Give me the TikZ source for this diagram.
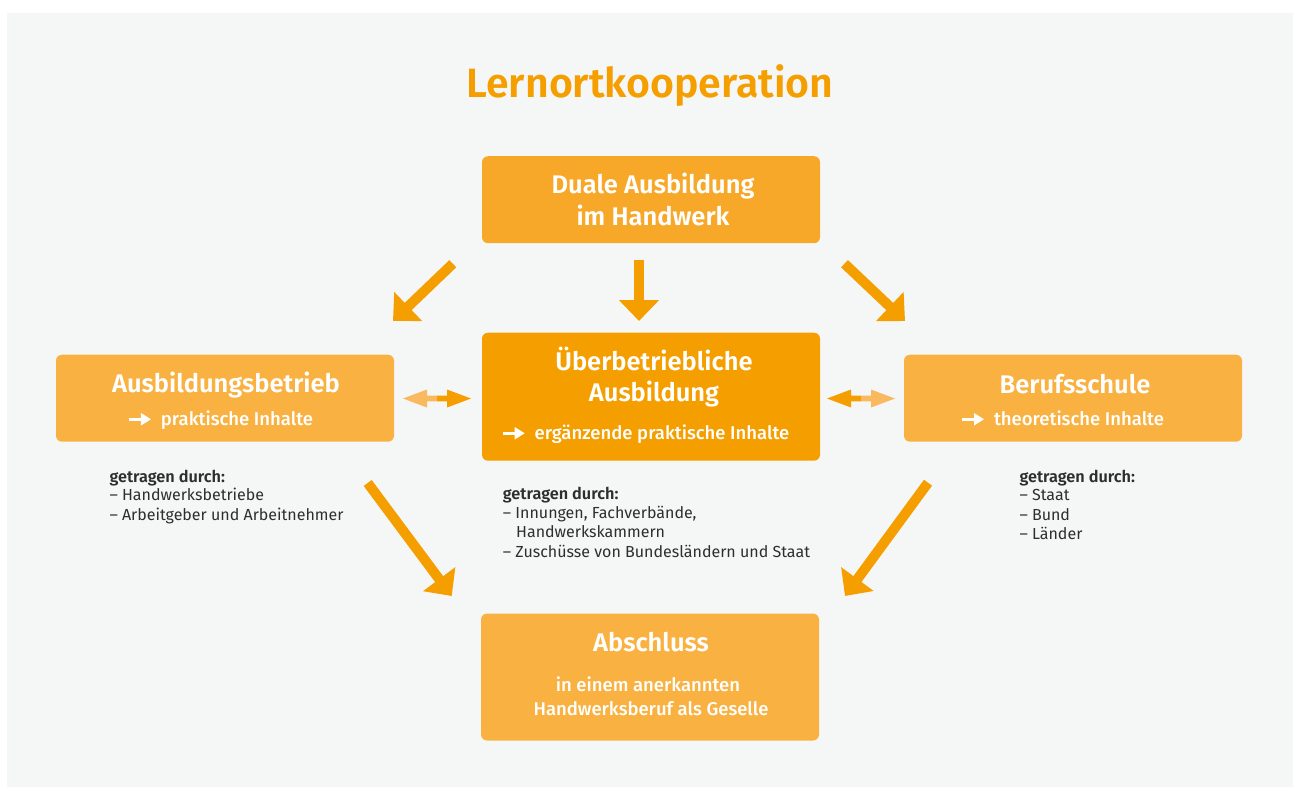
\documentclass[tikz,border=0pt]{standalone}
\usepackage{fontspec}
\IfFontExistsTF{Fira Sans SemiBold}{\setmainfont{Fira Sans}[BoldFont={Fira Sans SemiBold}]}{\setmainfont{Fira Sans}}
\IfFontExistsTF{Fira Sans Medium}{\newfontfamily\medfont{Fira Sans Medium}}{\newfontfamily\medfont{Fira Sans}}
\usetikzlibrary{arrows.meta}
\definecolor{bgc}{HTML}{F5F7F7}
\definecolor{cDark}{HTML}{F59E00}
\definecolor{cDual}{HTML}{F8A828}
\definecolor{cSide}{HTML}{F9B242}
\definecolor{cLight}{HTML}{F9B95F}
\definecolor{cText}{HTML}{2E2E2E}
\newcommand\warr{\tikz[baseline=0pt,x=1pt,y=1pt]{\fill[white] (0,4) rectangle (13,7.5);\fill[white] (12,-0.5) -- (22,5.75) -- (12,12) -- cycle;}\hspace{10pt}}
\begin{document}
\begin{tikzpicture}[x=1pt,y=-1pt,
  box/.style={rounded corners=6pt, minimum width=338pt, inner sep=0pt, draw=none},
  btitle/.style={text=white, font=\fontsize{25.5}{30}\selectfont\bfseries, anchor=base, inner sep=0pt},
  bsub/.style={text=white, font=\fontsize{18.5}{22}\selectfont\medfont, anchor=base, inner sep=0pt},
  gtext/.style={text=cText, font=\fontsize{16}{19.5}\selectfont, anchor=base west, inner sep=0pt},
  gbold/.style={gtext, font=\fontsize{16.3}{19.5}\selectfont\bfseries},
  bigarrow/.style={draw=cDark, line width=10pt, -{Triangle[length=21pt,width=39pt]}}
]
\useasboundingbox (0,0) rectangle (1293,787);
\fill[bgc] (7,13) rectangle (1293,787);

% title
\node[text=cDark, font=\fontsize{41}{48}\selectfont\bfseries, anchor=base, inner sep=0pt] (title) at (650,97) {Lernortkooperation};

% boxes
\node[box, fill=cDual, minimum height=87pt] (duale) at (651,199.7) {};
\node[box, fill=cDark, minimum height=128pt] (ueber) at (651,396.7) {};
\node[box, fill=cSide, minimum height=87pt] (betrieb) at (225,398.2) {};
\node[box, fill=cSide, minimum height=87pt] (schule) at (1073,398.2) {};
\node[box, fill=cSide, minimum height=127pt] (abschluss) at (650,677) {};

% box texts
\node[btitle] (d1) at (653,193) {Duale Ausbildung};
\node[btitle] (d2) at (653,225) {im Handwerk};
\node[btitle] (u1) at (654,370) {Überbetriebliche};
\node[btitle] (u2) at (654,401.7) {Ausbildung};
\node[bsub] (u3) at (646,439) {\warr ergänzende praktische Inhalte};
\node[btitle] (b1) at (226,392.7) {Ausbildungsbetrieb};
\node[bsub] (b2) at (221,425) {\warr praktische Inhalte};
\node[btitle] (s1) at (1075,393.3) {Berufsschule};
\node[bsub] (s2) at (1063,425) {\warr theoretische Inhalte};
\node[btitle] (a1) at (651,651.7) {Abschluss};
\node[bsub] (a2) at (648,691.7) {in einem anerkannten};
\node[bsub] (a3) at (651,715) {Handwerksberuf als Geselle};

% gray texts
\node[gbold] (l0) at (109.3,482.7) {getragen durch:};
\node[gtext] (l1) at (109.3,500.7) {– Handwerksbetriebe};
\node[gtext] (l2) at (109.3,520.7) {– Arbeitgeber und Arbeitnehmer};

\node[gbold] (m0) at (502.7,499.3) {getragen durch:};
\node[gtext] (m1) at (502.7,518.3) {– Innungen, Fachverbände,};
\node[gtext] (m2) at (516,537.3) {Handwerkskammern};
\node[gtext] (m3) at (502.7,557.3) {– Zuschüsse von Bundesländern und Staat};

\node[gbold] (r0) at (1019.3,482.7) {getragen durch:};
\node[gtext] (r1) at (1019.3,500.7) {– Staat};
\node[gtext] (r2) at (1019.3,520.7) {– Bund};
\node[gtext] (r3) at (1019.3,539.3) {– Länder};

% big arrows
\coordinate (tls) at (452.8,263.7); \coordinate (tle) at (393,321);
\coordinate (tms) at (639,260);   \coordinate (tme) at (639,321);
\coordinate (trs) at (844.5,263.7); \coordinate (tre) at (905,321);
\coordinate (bls) at (367.7,483); \coordinate (ble) at (451.7,596);
\coordinate (brs) at (928,482.7); \coordinate (bre) at (845,596);
\draw[bigarrow] (tls) -- (tle);
\draw[bigarrow] (tms) -- (tme);
\draw[bigarrow] (trs) -- (tre);
\draw[bigarrow] (bls) -- (ble);
\draw[bigarrow] (brs) -- (bre);

% double arrows
\fill[cLight] (403,398.5) -- (427,389.5) -- (427,395.7) -- (437,395.7) -- (437,401.3) -- (427,401.3) -- (427,407.5) -- cycle;
\fill[cDark] (471,398.5) -- (447,389.5) -- (447,395.7) -- (437,395.7) -- (437,401.3) -- (447,401.3) -- (447,407.5) -- cycle;
\fill[cDark] (827,398.5) -- (851,389.5) -- (851,395.7) -- (861,395.7) -- (861,401.3) -- (851,401.3) -- (851,407.5) -- cycle;
\fill[cLight] (895,398.5) -- (871,389.5) -- (871,395.7) -- (861,395.7) -- (861,401.3) -- (871,401.3) -- (871,407.5) -- cycle;
\end{tikzpicture}
\end{document}
